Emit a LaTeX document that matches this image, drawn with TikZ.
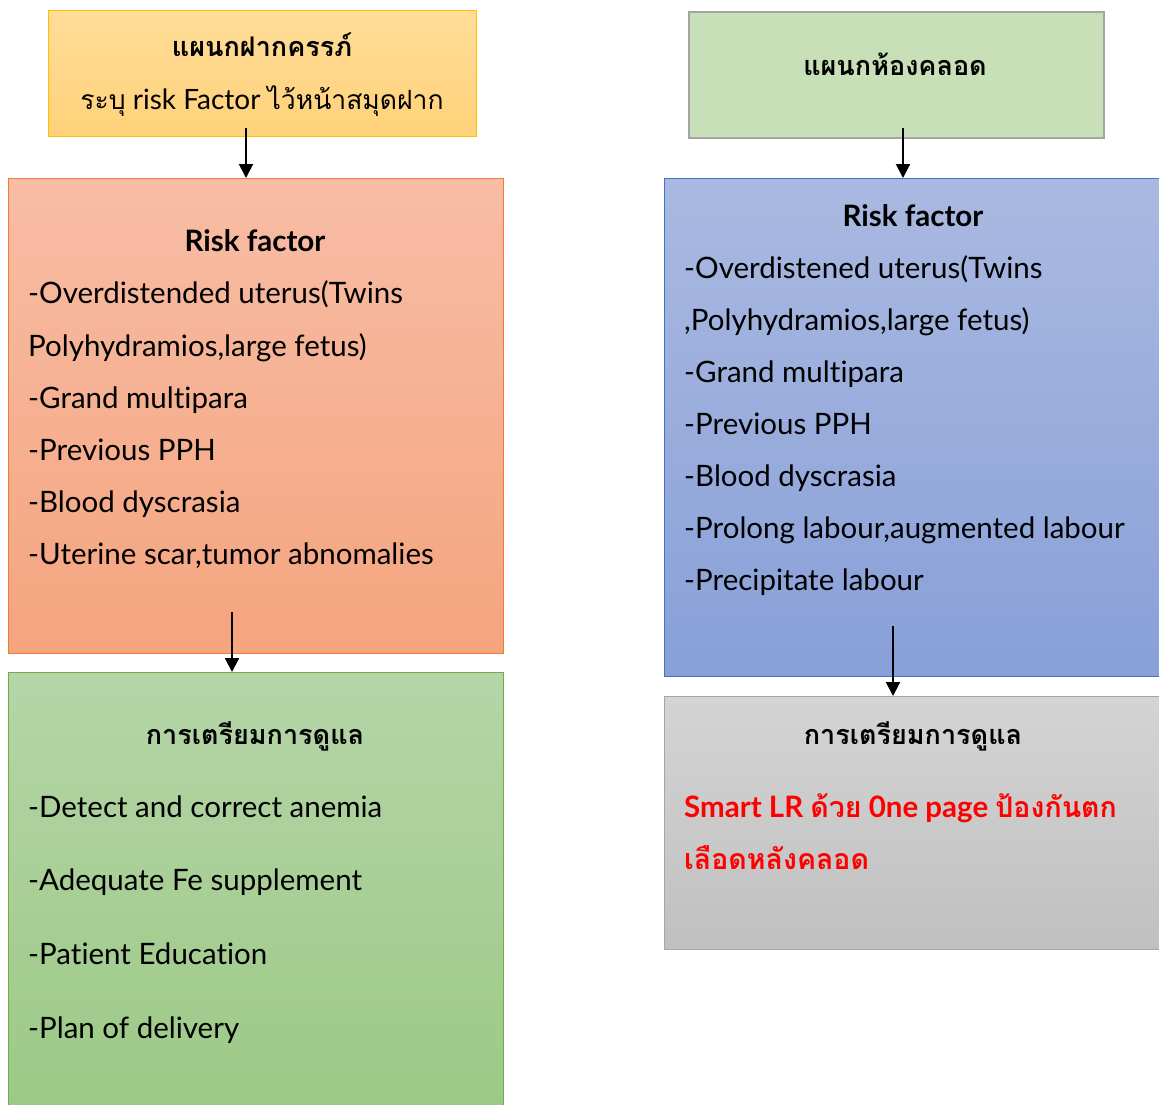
\documentclass[tikz,border=0pt]{standalone}
\usepackage{fontspec}
\setmainfont[Ligatures=NoCommon]{Lato}
\newfontfamily\thai[Script=Thai]{Loma}
\usetikzlibrary{arrows.meta}

\definecolor{ancTop}{HTML}{FFDC98}
\definecolor{ancBot}{HTML}{FFD27A}
\definecolor{ancLine}{HTML}{FFC000}
\definecolor{lrTop}{HTML}{C7E0B8}
\definecolor{lrLine}{HTML}{A5A5A5}
\definecolor{riskATop}{HTML}{F7BDA5}
\definecolor{riskABot}{HTML}{F5A47E}
\definecolor{riskALine}{HTML}{ED7D31}
\definecolor{riskBTop}{HTML}{AAB9E1}
\definecolor{riskBBot}{HTML}{88A0D8}
\definecolor{riskBLine}{HTML}{4472C4}
\definecolor{careATop}{HTML}{B5D5A8}
\definecolor{careABot}{HTML}{9CC985}
\definecolor{careALine}{HTML}{70AD47}
\definecolor{careBTop}{HTML}{D4D4D4}
\definecolor{careBBot}{HTML}{C0C0C0}
\definecolor{careBLine}{HTML}{A5A5A5}

\begin{document}
\begin{tikzpicture}[x=1pt,y=-1pt,
  box/.style={rectangle, anchor=north west, inner sep=0pt, line width=1.2pt},
  arr/.style={-{Triangle[length=14pt,width=14pt]}, line width=2pt},
  txt/.style={anchor=base west, inner sep=0pt, font=\fontsize{29.5}{32}\selectfont},
  head/.style={anchor=base, inner sep=0pt, font=\fontsize{29.5}{32}\selectfont\bfseries},
  thaihead/.style={anchor=base, inner sep=0pt, font=\thai\fontsize{27}{30}\selectfont\bfseries}]
\useasboundingbox (0,0) rectangle (1159,1104);

% Drawing box anc (antenatal clinic)
\node[box, draw=ancLine, top color=ancTop, bottom color=ancBot,
      minimum width=428pt, minimum height=126pt] (anc) at (48,10) {};
\node[thaihead] (ancTitle) at (262,56) {แผนกฝากครรภ์};
\node[anchor=base, inner sep=0pt, font=\fontsize{28}{30}\selectfont] (ancNote) at (262,109)
  {{\thai\fontsize{26.5}{30}\selectfont ระบุ} risk Factor {\thai\fontsize{26.5}{30}\selectfont ไว้หน้าสมุดฝาก}};

% Drawing box lr (labour room)
\node[box, draw=lrLine, fill=lrTop, line width=2pt,
      minimum width=415pt, minimum height=126pt] (lr) at (688,11) {};
\node[thaihead] (lrTitle) at (895,75) {แผนกห้องคลอด};

% Drawing box riskA
\node[box, draw=riskALine, top color=riskATop, bottom color=riskABot,
      minimum width=495pt, minimum height=475pt] (riskA) at (8,178) {};
\node[head] (riskATitle) at (255,251) {Risk factor};
\node[txt] (riskA1) at (28,303) {-Overdistended uterus(Twins};
\node[txt] (riskA2) at (28,356) {Polyhydramios,large fetus)};
\node[txt] (riskA3) at (28,408) {-Grand multipara};
\node[txt] (riskA4) at (28,460) {-Previous PPH};
\node[txt] (riskA5) at (28,512) {-Blood dyscrasia};
\node[txt] (riskA6) at (28,564) {-Uterine scar,tumor abnomalies};

% Drawing box riskB
\node[box, draw=riskBLine, top color=riskBTop, bottom color=riskBBot,
      minimum width=505pt, minimum height=498pt] (riskB) at (664,178) {};
\node[head] (riskBTitle) at (913,226) {Risk factor};
\node[txt] (riskB1) at (684,278) {-Overdistened uterus(Twins};
\node[txt] (riskB2) at (684,330) {,Polyhydramios,large fetus)};
\node[txt] (riskB3) at (684,382) {-Grand multipara};
\node[txt] (riskB4) at (684,434) {-Previous PPH};
\node[txt] (riskB5) at (684,486) {-Blood dyscrasia};
\node[txt] (riskB6) at (684,538) {-Prolong labour,augmented labour};
\node[txt] (riskB7) at (684,590) {-Precipitate labour};

% Drawing box careA
\node[box, draw=careALine, top color=careATop, bottom color=careABot,
      minimum width=495pt, minimum height=440pt] (careA) at (8,672) {};
\node[thaihead] (careATitle) at (255,744) {การเตรียมการดูแล};
\node[txt] (careA1) at (28,817) {-Detect and correct anemia};
\node[txt] (careA2) at (28,890) {-Adequate Fe supplement};
\node[txt] (careA3) at (28,964) {-Patient Education};
\node[txt] (careA4) at (28,1038) {-Plan of delivery};

% Drawing box careB
\node[box, draw=careBLine, top color=careBTop, bottom color=careBBot,
      minimum width=505pt, minimum height=253pt] (careB) at (664,696) {};
\node[thaihead] (careBTitle) at (913,744) {การเตรียมการดูแล};
\node[txt, text=red, font=\fontsize{29.5}{32}\selectfont\bfseries] (careB1) at (684,817)
  {Smart LR {\thai\bfseries\fontsize{28.5}{30}\selectfont ด้วย} 0ne page {\thai\bfseries\fontsize{28.5}{30}\selectfont ป้องกันตก}};
\node[txt, text=red, font=\thai\fontsize{28.5}{30}\selectfont\bfseries] (careB2) at (684,869) {เลือดหลังคลอด};

% Drawing arrows
\coordinate (ancOut) at (246,128);
\coordinate (lrOut) at (903,128);
\coordinate (riskAOut) at (232,612);
\coordinate (riskBOut) at (893,626);
\draw[arr] (ancOut) -- (ancOut |- riskA.north);
\draw[arr] (lrOut) -- (lrOut |- riskB.north);
\draw[arr] (riskAOut) -- (riskAOut |- careA.north);
\draw[arr] (riskBOut) -- (riskBOut |- careB.north);
\end{tikzpicture}
\end{document}
